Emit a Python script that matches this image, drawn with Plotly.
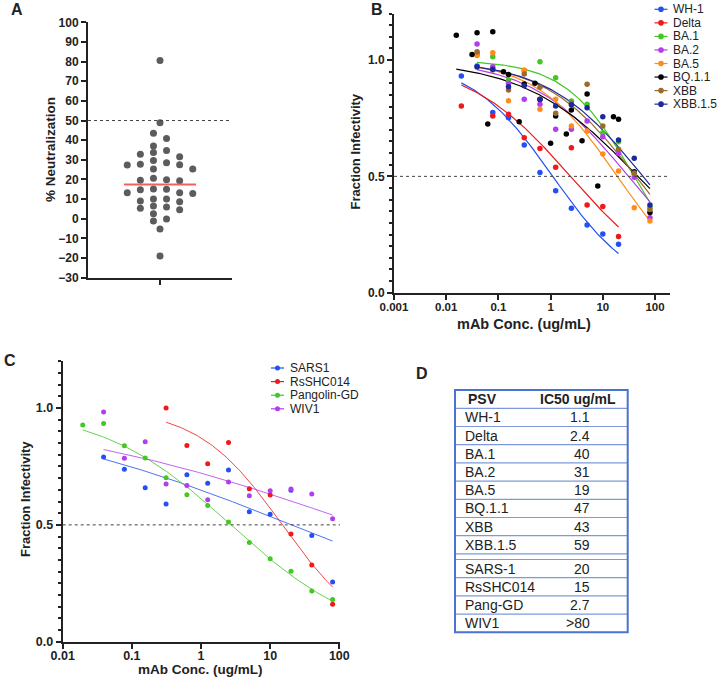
import numpy as np
import plotly.graph_objects as go

W, H = 720, 678
FONT = "Liberation Sans, Arial, sans-serif"
INK = "#222222"

# ---------------- Panel A data ----------------
neutralization_pct = [80.5, 48.9, 43.5, 40.9, 37.0, 34.7, 33.7, 32.8, 31.6, 29.7,
                      28.5, 27.5, 27.7, 27.4, 25.3, 25.3, 20.6, 19.4, 19.9, 19.6,
                      15.1, 15.0, 14.8, 12.9, 13.3, 13.3, 10.0, 10.0, 8.7, 9.0,
                      5.3, 6.5, 6.0, 4.6, 2.6, -1.2, -0.1, -5.2, -19.0]
neutralization_center_line = 17.4
threshold_pct = 50

# ---------------- Panel B data ----------------
dilution_ugml = [0.0195, 0.039, 0.078, 0.156, 0.3125, 0.625, 1.25, 2.5, 5, 10, 20, 40, 80]
wh1_frac = [0.931, 0.974, 0.774, 0.752, 0.635, 0.517, 0.438, 0.363, 0.291, 0.252, 0.208, None, None]
delta_frac = [0.802, 1.024, 0.759, 0.767, 0.666, 0.620, 0.539, 0.623, 0.377, 0.370, 0.242, None, None]
ba1_frac = [None, 1.030, 1.014, 0.914, 0.953, 0.993, 0.924, 0.824, 0.810, 0.688, 0.649, 0.509, 0.367]
ba2_frac = [None, 1.069, 0.971, 0.900, 0.831, 0.810, 0.702, 0.703, 0.738, 0.670, 0.599, 0.496, 0.322]
ba5_frac = [None, 1.020, 1.031, 0.825, 0.957, 0.789, 0.831, 0.716, 0.695, 0.596, 0.523, 0.365, 0.308]
xbb_frac = [None, 1.036, 0.957, 0.871, 0.940, 0.883, 0.771, 0.815, 0.896, 0.716, 0.617, 0.515, 0.358]
xbb15_frac = [None, 0.970, 0.960, 0.885, 0.890, 0.830, 0.802, 0.808, 0.795, 0.756, 0.656, 0.578, 0.377]
bq11_conc = [0.0156, 0.03125, 0.039, 0.0625, 0.078, 0.125, 0.156, 0.25, 0.3125, 0.5, 0.625,
             1, 1.25, 2, 2.5, 4, 5, 8, 16, 20, 40, 80]
bq11_frac = [1.107, 1.024, 1.117, 0.725, 1.122, 0.950, 0.938, 0.735, 0.897, 0.900, 0.831,
             0.642, 0.759, 0.682, 0.785, 0.653, 0.854, 0.459, 0.756, 0.745, 0.520, 0.345]

b_names = ["WH-1", "Delta", "BA.1", "BA.2", "BA.5", "BQ.1.1", "XBB", "XBB.1.5"]
b_conc = [dilution_ugml, dilution_ugml, dilution_ugml, dilution_ugml, dilution_ugml,
          bq11_conc, dilution_ugml, dilution_ugml]
b_frac = [wh1_frac, delta_frac, ba1_frac, ba2_frac, ba5_frac, bq11_frac, xbb_frac, xbb15_frac]
b_colors = ["#2350f5", "#f01818", "#44c722", "#b43cf0", "#ff8c1a", "#000000", "#9b6b2b", "#1b2a9b"]
b_fit_ic50 = [1.1, 2.4, 40, 31, 19, 47, 43, 59]
b_fit_hill = [0.55, 0.44, 0.66, 0.47, 0.56, 0.40, 0.50, 0.475]
b_fit_start = [0.0195, 0.0195, 0.039, 0.039, 0.039, 0.0156, 0.039, 0.039]
b_fit_end = [20, 20, 80, 80, 80, 80, 80, 80]

# ---------------- Panel C data ----------------
sars1_frac = [None, 0.790, 0.738, 0.659, 0.589, 0.715, 0.678, 0.735, 0.556, 0.545, 0.648, 0.455, 0.255]
rsshc014_frac = [None, None, None, None, 1.000, 0.840, 0.762, 0.852, 0.655, 0.628, 0.461, 0.328, 0.160]
pangolin_frac = [0.927, 0.934, 0.839, 0.786, 0.702, 0.629, 0.583, 0.512, 0.425, 0.355, 0.302, 0.217, 0.181]
wiv1_frac = [None, 0.983, 0.785, 0.856, 0.675, 0.668, 0.608, 0.683, 0.625, 0.646, 0.653, 0.632, 0.526]
c_names = ["SARS1", "RsSHC014", "Pangolin-GD", "WIV1"]
c_frac = [sars1_frac, rsshc014_frac, pangolin_frac, wiv1_frac]
c_colors = ["#2350f5", "#f01818", "#44c722", "#b43cf0"]
c_fit_ic50 = [20.4, 15.0, 2.7, 204]
c_fit_hill = [0.204, 0.709, 0.461, 0.179]
c_fit_start = [0.039, 0.3125, 0.0195, 0.039]
c_fit_end = [80, 80, 80, 80]
threshold_frac = 0.5

# ---------------- Panel D data ----------------
table_header = ["PSV", "IC50 ug/mL"]
table_psv_1 = ["WH-1", "Delta", "BA.1", "BA.2", "BA.5", "BQ.1.1", "XBB", "XBB.1.5"]
table_ic50_1 = ["1.1", "2.4", "40", "31", "19", "47", "43", "59"]
table_psv_2 = ["SARS-1", "RsSHC014", "Pang-GD", "WIV1"]
table_ic50_2 = ["20", "15", "2.7", ">80"]

x_tick_vals_b = [0.001, 0.01, 0.1, 1, 10, 100]
x_tick_text_b = ["0.001", "0.01", "0.1", "1", "10", "100"]
x_tick_vals_c = [0.01, 0.1, 1, 10, 100]
x_tick_text_c = ["0.01", "0.1", "1", "10", "100"]
y_tick_vals_frac = [0, 0.5, 1.0]
y_tick_text_frac = ["0.0", "0.5", "1.0"]


def fx(px):
    return px / W


def fy(py):
    return 1 - py / H


fig = go.Figure()

# ---------------- Panel A swarm ----------------
a_y_px_per_unit = (277.7 - 22.3) / 130.0
a_x_px_per_unit = (232.0 - 88.0) / 2.0
diam_px = 6.3
col_px = 13.1
slot_order = [-0.5, 0.5, -1.5, 1.5, -2.5, 2.5, -3.5, 3.5]
vals = neutralization_pct
order = sorted(range(len(vals)), key=lambda i: -vals[i])
placed = []
xs = [0.0] * len(vals)
for i in order:
    v = vals[i]
    isolated = all(abs(v - vals[j]) * a_y_px_per_unit >= diam_px * 1.2
                   for j in range(len(vals)) if j != i)
    slot = 0.0
    if not isolated:
        for s in slot_order:
            if all(abs(v - pv) * a_y_px_per_unit >= diam_px for ps, pv in placed if ps == s):
                slot = s
                break
    placed.append((slot, v))
    xs[i] = slot * col_px / a_x_px_per_unit

fig.add_trace(go.Scatter(x=xs, y=vals, mode="markers", xaxis="x", yaxis="y",
                         marker=dict(size=7, color="#5c5c5c"), showlegend=False,
                         hoverinfo="y"))
fig.add_trace(go.Scatter(x=[-0.5, 0.5], y=[neutralization_center_line] * 2, mode="lines",
                         xaxis="x", yaxis="y", line=dict(color="#f06060", width=2),
                         showlegend=False))

# ---------------- Panel B ----------------
for name, conc, frac, col, ic50, hill, s, e in zip(b_names, b_conc, b_frac, b_colors,
                                                    b_fit_ic50, b_fit_hill, b_fit_start, b_fit_end):
    cx = np.logspace(np.log10(s), np.log10(e), 120)
    cy = 1.0 / (1.0 + (cx / ic50) ** hill)
    fig.add_trace(go.Scatter(x=cx, y=cy, mode="lines", xaxis="x2", yaxis="y2",
                             line=dict(color=col, width=1.2), showlegend=False, hoverinfo="skip"))
for name, conc, frac, col in zip(b_names, b_conc, b_frac, b_colors):
    px_ = [c for c, f in zip(conc, frac) if f is not None]
    py_ = [f for f in frac if f is not None]
    fig.add_trace(go.Scatter(x=px_, y=py_, mode="markers", xaxis="x2", yaxis="y2",
                             marker=dict(size=5.5, color=col), name=name, showlegend=False))

# ---------------- Panel C ----------------
for name, frac, col, ic50, hill, s, e in zip(c_names, c_frac, c_colors, c_fit_ic50,
                                             c_fit_hill, c_fit_start, c_fit_end):
    cx = np.logspace(np.log10(s), np.log10(e), 120)
    cy = 1.0 / (1.0 + (cx / ic50) ** hill)
    fig.add_trace(go.Scatter(x=cx, y=cy, mode="lines", xaxis="x3", yaxis="y3",
                             line=dict(color=col, width=1), opacity=0.8,
                             showlegend=False, hoverinfo="skip"))
for name, frac, col in zip(c_names, c_frac, c_colors):
    px_ = [c for c, f in zip(dilution_ugml, frac) if f is not None]
    py_ = [f for f in frac if f is not None]
    fig.add_trace(go.Scatter(x=px_, y=py_, mode="markers", xaxis="x3", yaxis="y3",
                             marker=dict(size=5, color=col), name=name, showlegend=False))

tickfont = dict(family=FONT, size=12, color=INK, weight="bold")
common = dict(showline=True, linecolor=INK, linewidth=2, ticks="outside", tickcolor=INK,
              tickwidth=2, ticklen=5, showgrid=False, zeroline=False, automargin=False,
              tickfont=tickfont)
minor = dict(dtick=0.05, tick0=0, ticks="outside", ticklen=3, tickwidth=1.5,
             tickcolor=INK, showgrid=False)

fig.update_layout(
    width=W, height=H, margin=dict(l=0, r=0, t=0, b=0),
    paper_bgcolor="white", plot_bgcolor="white", template="none",
    font=dict(family=FONT, color=INK), showlegend=False,
    xaxis=dict(domain=[fx(88), fx(232)], range=[-1, 1], tickvals=[0], ticktext=[""],
               anchor="y", **common),
    yaxis=dict(domain=[fy(277.7), fy(22.3)], range=[-30, 100], tickvals=list(range(-30, 101, 10)),
               anchor="x", **common),
    xaxis2=dict(type="log", domain=[fx(394), fx(670)], range=[-3, 2.287],
                tickvals=x_tick_vals_b, ticktext=x_tick_text_b, anchor="y2",
                ticklabelstandoff=-3, **dict(common, tickfont=dict(tickfont, size=11.5))),
    yaxis2=dict(domain=[fy(292.7), fy(13.5)], range=[0, 1.2], tickvals=y_tick_vals_frac,
                ticktext=y_tick_text_frac, anchor="x2", minor=minor, **common),
    xaxis3=dict(type="log", domain=[fx(62.7), fx(340)], range=[-2, 2.01],
                tickvals=x_tick_vals_c, ticktext=x_tick_text_c, anchor="y3",
                ticklabelstandoff=-4, **dict(common, tickfont=dict(tickfont, size=12.5))),
    yaxis3=dict(domain=[fy(641.7), fy(361.3)], range=[0, 1.2], tickvals=y_tick_vals_frac,
                ticktext=y_tick_text_frac, anchor="x3", minor=minor,
                **dict(common, tickfont=dict(tickfont, size=12.5))),
)

shapes = []
annotations = []

# reference dotted lines
for xr, yr, yv in [("x domain", "y", threshold_pct), ("x2 domain", "y2", threshold_frac),
                   ("x3 domain", "y3", threshold_frac)]:
    shapes.append(dict(type="line", xref=xr, yref=yr, x0=0, x1=1, y0=yv, y1=yv,
                       line=dict(color="#444", width=1, dash="dot")))


def add_text(text, x, y, size, bold=False, angle=0, xanchor="center", color=INK):
    annotations.append(dict(text=text, x=fx(x), y=fy(y), xref="paper", yref="paper",
                            showarrow=False, xanchor=xanchor, yanchor="middle", textangle=angle,
                            font=dict(family=FONT, size=size, color=color,
                                      weight="bold" if bold else "normal")))


# panel letters
for letter, (lx, ly) in zip(["A", "B", "C", "D"],
                            [(16.7, 9), (376.7, 9), (10, 360), (421.7, 373.3)]):
    add_text(letter, lx, ly, 16, bold=True)

# axis titles
add_text("% Neutralization", 50, 150, 13.5, bold=True, angle=-90)
add_text("Fraction Infectivity", 355, 151.5, 13, bold=True, angle=-90)
add_text("mAb Conc. (ug/mL)", 523.5, 323.5, 14.5, bold=True)
add_text("Fraction Infectivity", 25, 499, 13, bold=True, angle=-90)
add_text("mAb Conc. (ug/mL)", 200.5, 669.5, 13.5, bold=True)


# legends (symbol: short line with a dot, then the series name)
def add_legend(names, colors, sym_x, text_x, y0, dy, r):
    for i, (nm, col) in enumerate(zip(names, colors)):
        yy = y0 + i * dy
        shapes.append(dict(type="line", xref="paper", yref="paper", x0=fx(sym_x - 6.5),
                           x1=fx(sym_x + 6.5), y0=fy(yy), y1=fy(yy), line=dict(color=col, width=1.2)))
        shapes.append(dict(type="circle", xref="paper", yref="paper", x0=fx(sym_x - r),
                           x1=fx(sym_x + r), y0=fy(yy + r), y1=fy(yy - r),
                           fillcolor=col, line=dict(color=col, width=0)))
        add_text(nm, text_x, yy, 12, xanchor="left")


add_legend(b_names, b_colors, 661, 670.5, 9.3, 13.55, 2.8)
add_legend(c_names, c_colors, 277.5, 287.5, 368.0, 13.6, 2.5)

# ---------------- Panel D table ----------------
t_left, t_right, t_top = 455.0, 627.7, 390.0
head_h, row_h, gap_h = 18.3, 18.2, 5.6
border = "#4a72cf"
inner = "#7d98dc"
name_x, head_name_x, val_right_x, head_val_x = 462.7, 465.7, 592.0, 578.0

y = t_top
add_text(table_header[0], head_name_x, y + head_h / 2, 14, bold=True, xanchor="left")
add_text(table_header[1], head_val_x, y + head_h / 2, 14, bold=True)
y += head_h
row_lines = [y]
for group_i, (names, ics) in enumerate([(table_psv_1, table_ic50_1), (table_psv_2, table_ic50_2)]):
    if group_i == 1:
        y += gap_h
        row_lines.append(y)
    for nm, ic in zip(names, ics):
        add_text(nm, name_x, y + row_h / 2, 14, xanchor="left")
        add_text(ic, val_right_x, y + row_h / 2, 14, xanchor="right")
        y += row_h
        row_lines.append(y)
t_bottom = row_lines.pop()
for ly in row_lines:
    shapes.append(dict(type="line", xref="paper", yref="paper", x0=fx(t_left), x1=fx(t_right),
                       y0=fy(ly), y1=fy(ly), line=dict(color=inner, width=1.2)))
shapes.append(dict(type="rect", xref="paper", yref="paper", x0=fx(t_left), x1=fx(t_right),
                   y0=fy(t_bottom), y1=fy(t_top), line=dict(color=border, width=2)))

fig.update_layout(shapes=shapes, annotations=annotations)
fig.write_html("out.html", config={"displayModeBar": False},
               post_script="document.body.style.margin='0';document.body.style.padding='0';"
                           "document.documentElement.style.overflow='hidden';")
